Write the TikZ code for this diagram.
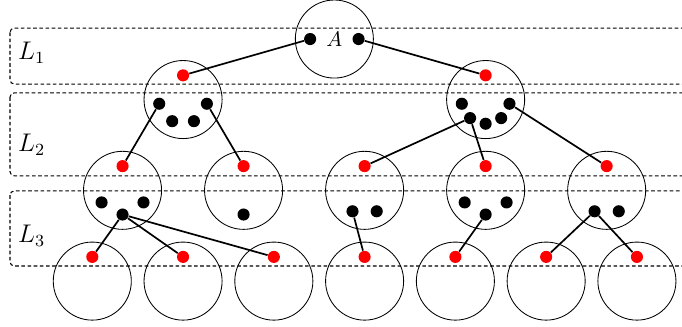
\documentclass[tikz,border=0pt]{standalone}
\usetikzlibrary{calc}
\tikzset{
  grp/.style={circle,draw,thin,minimum size=1.29cm,inner sep=0pt},
  bdot/.style={circle,fill=black,minimum size=0.2cm,inner sep=0pt},
  rdot/.style={circle,fill=red,minimum size=0.2cm,inner sep=0pt},
  lvl/.style={draw,line width=0.5pt,dash pattern=on 1.7pt off 1.2pt,rounded corners=2pt},
  edge/.style={thick}
}
\begin{document}
\begin{tikzpicture}
\clip (-0.025,-4.744) rectangle (11.245,0.645);
% levels
\draw[lvl] (0.14,0.18) rectangle (11.6,-0.744);
\draw[lvl] (0.14,-0.89) rectangle (11.6,-2.26);
\draw[lvl] (0.14,-2.51) rectangle (11.6,-3.75);
\node (l1) at (0.5,-0.23) {\large $L_1$};
\node (l2) at (0.5,-1.75) {\large $L_2$};
\node (l3) at (0.5,-3.25) {\large $L_3$};
% root
\node[grp] (a) at (5.5,0) {$A$};
\node[bdot] (a1) at ($(a)+(180:.4)$) {};
\node[bdot] (a2) at ($(a)+(0:.4)$) {};
% first level
\node[grp] (b1) at (3,-1) {};
\node[grp] (b2) at (8,-1) {};
\node[rdot] (b1in) at ($(b1)+(90:.4)$) {};
\node[rdot] (b2in) at ($(b2)+(90:.4)$) {};
\foreach \ang [count=\i] in {190,243.3,296.7,350}
  \node[bdot] (b1o\i) at ($(b1)+(\ang:.4)$) {};
\foreach \ang [count=\i] in {190,230,270,310,350}
  \node[bdot] (b2o\i) at ($(b2)+(\ang:.4)$) {};
% second level
\foreach \x [count=\i] in {2,4,6,8,10}{
  \node[grp] (c\i) at (\x,-2.5) {};
  \node[rdot] (c\i in) at ($(c\i)+(90:.4)$) {};
}
\foreach \ang [count=\i] in {210,270,330}
  \node[bdot] (c1o\i) at ($(c1)+(\ang:.4)$) {};
\node[bdot] (c2o1) at ($(c2)+(270:.4)$) {};
\foreach \ang [count=\i] in {240,300}
  \node[bdot] (c3o\i) at ($(c3)+(\ang:.4)$) {};
\foreach \ang [count=\i] in {210,270,330}
  \node[bdot] (c4o\i) at ($(c4)+(\ang:.4)$) {};
\foreach \ang [count=\i] in {240,300}
  \node[bdot] (c5o\i) at ($(c5)+(\ang:.4)$) {};
% third level
\foreach \x [count=\i] in {1.5,3,4.5,6,7.5,9,10.5}{
  \node[grp] (d\i) at (\x,-4) {};
  \node[rdot] (d\i in) at ($(d\i)+(90:.4)$) {};
}
% edges
\draw[edge] (a1) -- (b1in);
\draw[edge] (a2) -- (b2in);
\draw[edge] (b1o1) -- (c1in);
\draw[edge] (b1o4) -- (c2in);
\draw[edge] (b2o2) -- (c3in);
\draw[edge] (b2o2) -- (c4in);
\draw[edge] (b2o5) -- (c5in);
\draw[edge] (c1o2) -- (d1in);
\draw[edge] (c1o2) -- (d2in);
\draw[edge] (c1o2) -- (d3in);
\draw[edge] (c3o1) -- (d4in);
\draw[edge] (c4o2) -- (d5in);
\draw[edge] (c5o1) -- (d6in);
\draw[edge] (c5o1) -- (d7in);
\end{tikzpicture}
\end{document}
